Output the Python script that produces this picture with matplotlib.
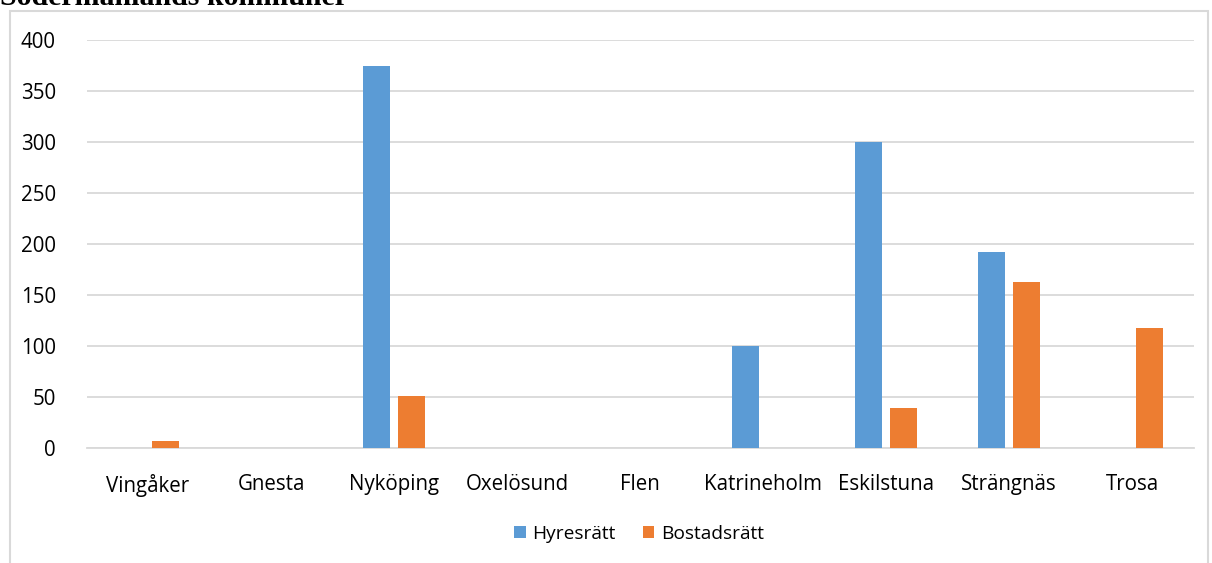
import matplotlib.pyplot as plt
import numpy as np
from matplotlib.patches import Rectangle

# Data
kommuner = ['Vingåker', 'Gnesta', 'Nyköping', 'Oxelösund', 'Flen',
            'Katrineholm', 'Eskilstuna', 'Strängnäs', 'Trosa']
hyresratt = [0, 0, 375, 0, 0, 100, 300, 192, 0]
bostadsratt = [7, 0, 51, 0, 0, 0, 39, 163, 118]
yticks = [0, 50, 100, 150, 200, 250, 300, 350, 400]

blue = '#5B9BD5'
orange = '#ED7D31'
grid = '#D9D9D9'

plt.rcParams['font.family'] = ['Open Sans', 'DejaVu Sans']

W, H = 1212, 563
fig = plt.figure(figsize=(W / 100, H / 100), dpi=100)

# chart frame (extends below the picture)
fig.patches.append(Rectangle((10 / W, -0.1), 1198 / W, 1 - 11.5 / H + 0.1,
                             transform=fig.transFigure, fill=False,
                             edgecolor=grid, linewidth=1.5))

# title, cut off at the top
fig.text(0, 1 - 5 / H, 'Södermanlands kommuner', family='Liberation Serif',
         fontweight='bold', fontsize=21.5, va='baseline', ha='left')

left, right = 86.5 / W, 1193.5 / W
bottom, top = 1 - 448 / H, 1 - 40 / H
ax = fig.add_axes([left, bottom, right - left, top - bottom])

x = np.arange(len(kommuner))
w = 0.22
gap = 0.065
ax.bar(x - (w + gap) / 2, hyresratt, w, color=blue, label='Hyresrätt', zorder=3)
ax.bar(x + (w + gap) / 2, bostadsratt, w, color=orange, label='Bostadsrätt', zorder=3)

ax.set_xlim(-0.5, len(kommuner) - 0.5)
ax.set_ylim(0, 400)
ax.set_yticks(yticks)
ax.set_xticks(x)
ax.set_xticklabels(kommuner)
ax.yaxis.grid(True, color=grid, linewidth=1.3, zorder=0)
ax.set_axisbelow(True)
for s in ['top', 'right', 'left']:
    ax.spines[s].set_visible(False)
ax.spines['bottom'].set_color(grid)
ax.spines['bottom'].set_linewidth(1.3)
ax.tick_params(axis='both', length=0, labelsize=14.8, colors='black')
ax.tick_params(axis='x', pad=19)
ax.tick_params(axis='y', pad=22)

fig.legend(loc='center', bbox_to_anchor=(639 / W, 1 - 534 / H), ncol=2,
           frameon=False, fontsize=13.8, handlelength=0.6, handleheight=0.6,
           handletextpad=0.35, columnspacing=1.4)

fig.savefig('out.png', dpi=100)
